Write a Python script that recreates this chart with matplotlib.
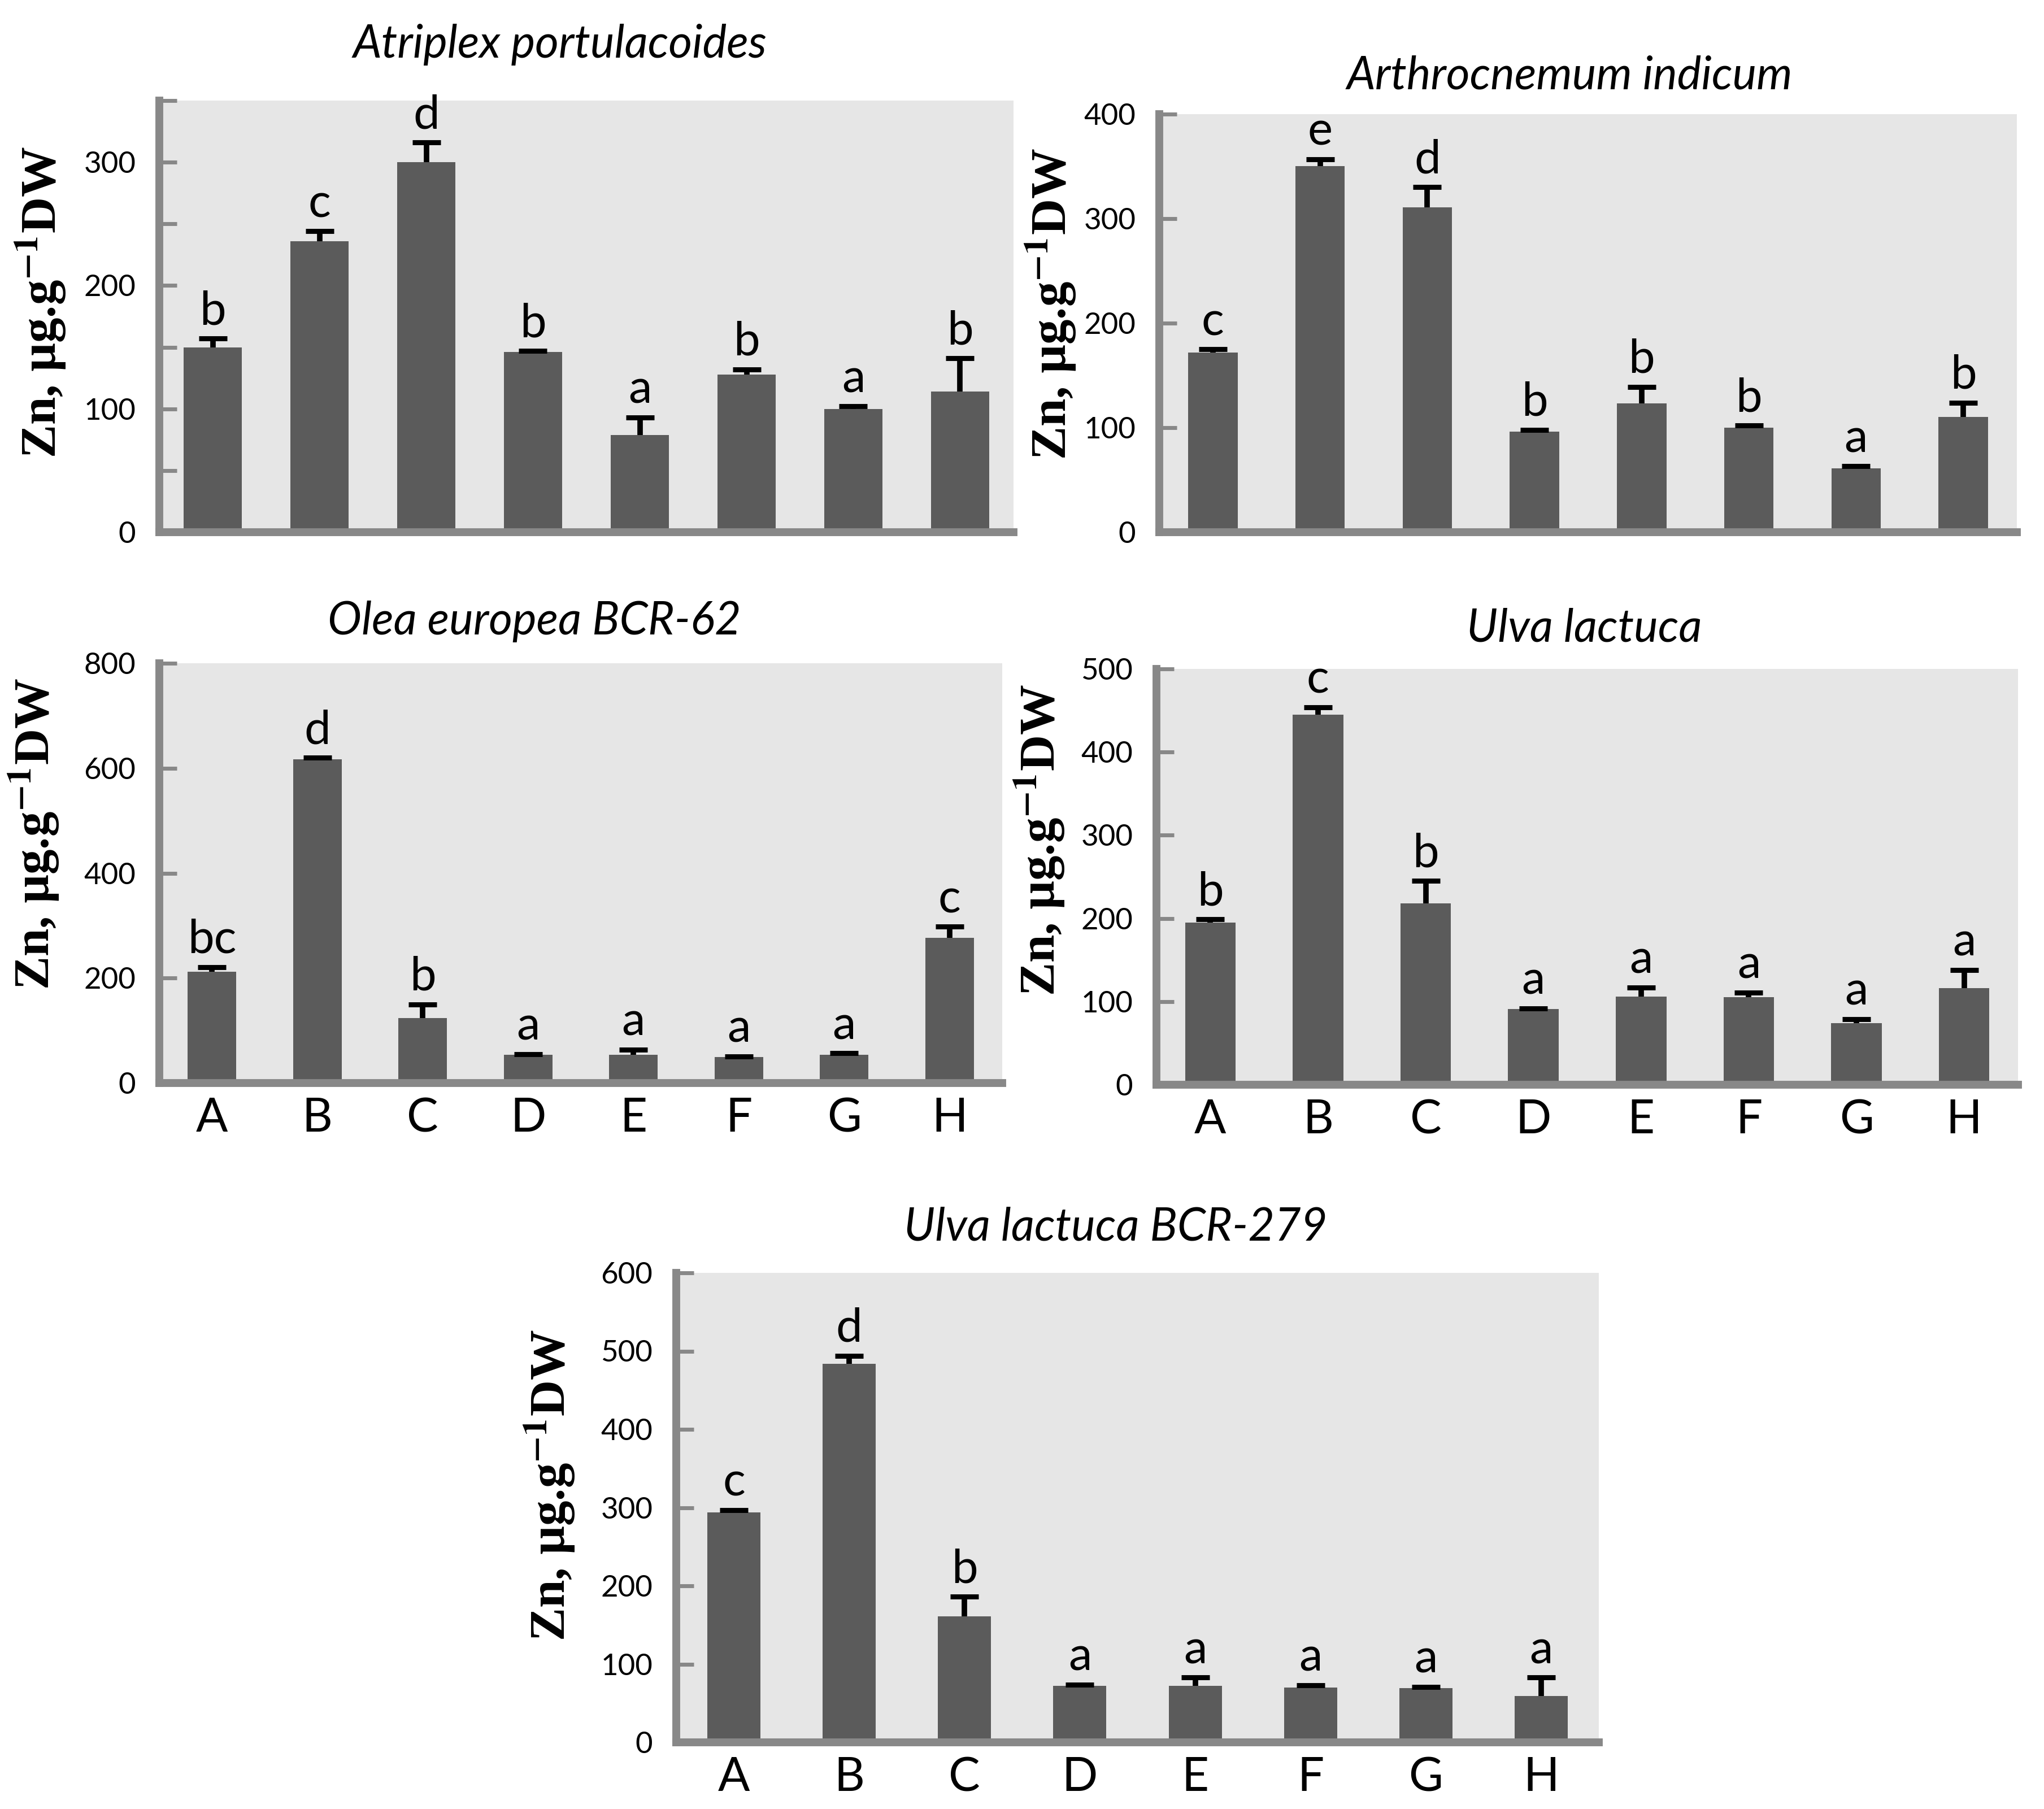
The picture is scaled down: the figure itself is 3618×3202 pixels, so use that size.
import numpy as np
import matplotlib
matplotlib.use("Agg")
import matplotlib.pyplot as plt
from matplotlib.ticker import FuncFormatter

plt.rcParams["mathtext.fontset"] = "stix"

TREATMENTS = ["A", "B", "C", "D", "E", "F", "G", "H"]

atriplex_mean = [150, 236, 300, 146, 79, 128, 100, 114]
atriplex_err = [7, 8, 16, 1, 14, 4, 2, 27]
atriplex_sig = ["b", "c", "d", "b", "a", "b", "a", "b"]

arthro_mean = [172, 350, 311, 96, 123, 100, 61, 110]
arthro_err = [3, 7, 19, 2, 16, 2, 2, 14]
arthro_sig = ["c", "e", "d", "b", "b", "b", "a", "b"]

olea_mean = [212, 617, 124, 54, 54, 49, 54, 277]
olea_err = [9, 3, 26, 1, 10, 2, 3, 21]
olea_sig = ["bc", "d", "b", "a", "a", "a", "a", "c"]

ulva_mean = [195, 445, 218, 91, 106, 105, 74, 116]
ulva_err = [4, 9, 27, 1, 11, 6, 5, 22]
ulva_sig = ["b", "c", "b", "a", "a", "a", "a", "a"]

ulva279_mean = [294, 484, 161, 72, 72, 70, 69, 59]
ulva279_err = [3, 10, 25, 2, 11, 3, 2, 24]
ulva279_sig = ["c", "d", "b", "a", "a", "a", "a", "a"]

BAR = "#5b5b5b"
BG = "#e6e6e6"
SPINE = "#888888"
YLABEL = r"Zn, µg.g$^{\mathbf{-1}}$DW"

W, H = 3618, 3202
fig = plt.figure(figsize=(W / 200, H / 200), dpi=200)


def px_rect(left, right, top, bottom):
    return [left / W, 1 - bottom / H, (right - left) / W, (bottom - top) / H]


panels = [
    # axes box (px), title, title centre (px), ylabel centre (px), data, ymax,
    # tick step, label step, bar width, x labels
    ((282, 1794, 178, 942), "Atriplex portulacoides", (991, 102), (72, 535),
     atriplex_mean, atriplex_err, atriplex_sig, 350, 50, 100, 0.55, False),
    ((2052, 3570, 202, 942), "Arthrocnemum indicum", (2778, 157), (1860, 538),
     arthro_mean, arthro_err, arthro_sig, 400, 100, 100, 0.46, False),
    ((282, 1774, 1174, 1917), "Olea europea BCR-62", (946, 1123), (60, 1476),
     olea_mean, olea_err, olea_sig, 800, 200, 200, 0.46, True),
    ((2047, 3572, 1184, 1920), "Ulva lactuca", (2804, 1136), (1840, 1487),
     ulva_mean, ulva_err, ulva_sig, 500, 100, 100, 0.47, True),
    ((1197, 2830, 2253, 3084), "Ulva lactuca BCR-279", (1975, 2196), (973, 2629),
     ulva279_mean, ulva279_err, ulva279_sig, 600, 100, 100, 0.46, True),
]

for (box, title, tpos, lpos, mean, err, sig, ymax, step, lstep,
     bw, show_x) in panels:
    ax = fig.add_axes(px_rect(*box))
    ax.set_facecolor(BG)
    x = np.arange(len(TREATMENTS))
    mean = np.asarray(mean, float)
    err = np.asarray(err, float)
    ax.bar(x, mean, width=bw, color=BAR, zorder=2)
    # upper-only error bars: stem plus a cap at the top
    ax.errorbar(x, mean, yerr=[np.zeros(len(err)), err], fmt="none",
                ecolor="black", elinewidth=3.5, capsize=0, zorder=3)
    ax.plot(x, mean + err, ls="none", marker="_", ms=18, mew=3.2,
            color="black", zorder=3)
    for xi, top, s in zip(x, mean + err, sig):
        ax.annotate(s, (xi, top), xytext=(0, 9), textcoords="offset points",
                    ha="center", va="baseline", fontsize=30, family="Lato",
                    annotation_clip=False)
    ax.set_xlim(-0.5, len(TREATMENTS) - 0.5)
    ax.set_ylim(0, ymax)
    ax.set_yticks(np.arange(0, ymax + 1, step))
    ax.yaxis.set_major_formatter(FuncFormatter(
        lambda v, p, ls=lstep: f"{int(v)}" if v % ls == 0 and v % 100 == 0 else ""))
    ax.tick_params(axis="y", direction="in", length=11, width=2.5, color=SPINE,
                   labelsize=19, pad=15)
    for lab in ax.get_yticklabels():
        lab.set_family("Lato")
    if show_x:
        ax.set_xticks(x)
        ax.set_xticklabels(TREATMENTS, fontsize=30, family="Lato")
        ax.tick_params(axis="x", length=0, pad=9)
    else:
        ax.set_xticks([])
    for side in ("top", "right"):
        ax.spines[side].set_visible(False)
    for side in ("left", "bottom"):
        ax.spines[side].set_color(SPINE)
        ax.spines[side].set_linewidth(5)
    fig.text(tpos[0] / W, 1 - tpos[1] / H, title, fontsize=29, style="italic",
             family="Lato", ha="center", va="baseline")
    fig.text(lpos[0] / W, 1 - lpos[1] / H, YLABEL, fontsize=32, fontweight="bold",
             family="Liberation Serif", rotation=90, ha="center", va="center")

fig.savefig("out.png", dpi=200, facecolor="white")
